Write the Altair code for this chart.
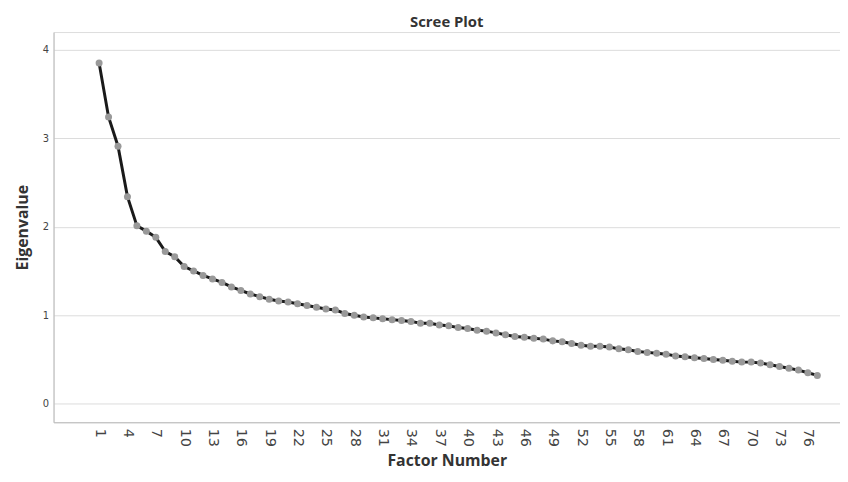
import altair as alt
import pandas as pd

factor_number = list(range(1, 78))
eigenvalue = [
    3.85, 3.24, 2.91, 2.34, 2.01, 1.95, 1.88, 1.72, 1.66, 1.55,
    1.50, 1.45, 1.41, 1.37, 1.32, 1.28, 1.24, 1.21, 1.18, 1.16,
    1.15, 1.13, 1.11, 1.09, 1.07, 1.06, 1.02, 1.00, 0.98, 0.97,
    0.96, 0.95, 0.94, 0.93, 0.91, 0.91, 0.89, 0.88, 0.86, 0.85,
    0.83, 0.82, 0.80, 0.78, 0.76, 0.75, 0.74, 0.73, 0.71, 0.70,
    0.68, 0.66, 0.65, 0.65, 0.64, 0.62, 0.61, 0.59, 0.58, 0.57,
    0.56, 0.54, 0.53, 0.52, 0.51, 0.50, 0.49, 0.48, 0.47, 0.47,
    0.46, 0.44, 0.42, 0.40, 0.38, 0.35, 0.32,
]
x_ticks = list(range(1, 77, 3))
y_ticks = [0, 1, 2, 3, 4]

df = pd.DataFrame({"Factor Number": factor_number, "Eigenvalue": eigenvalue})

x_enc = alt.X(
    "Factor Number:Q",
    scale=alt.Scale(domain=[-3.82, 79.4], nice=False, zero=False),
    axis=alt.Axis(
        title="Factor Number", values=x_ticks, format="d", labelAngle=90,
        labelAlign="left", labelBaseline="middle", labelFontSize=14.5,
        labelColor="#444444", labelOverlap=False, labelPadding=6, ticks=False,
        grid=False, domainColor="#bbbbbb", titleFontSize=16,
        titleFontWeight="bold", titleColor="#333333", titlePadding=6,
        labelFont="DejaVu Sans", titleFont="Open Sans",
    ),
)
y_enc = alt.Y(
    "Eigenvalue:Q",
    scale=alt.Scale(domain=[-0.21, 4.2], nice=False, zero=False),
    axis=alt.Axis(
        title="Eigenvalue", values=y_ticks, format="d", labelFontSize=10,
        labelColor="#444444", labelPadding=5, ticks=False, grid=True,
        gridColor="#dcdcdc", domainColor="#bbbbbb", titleFontSize=16,
        titleFontWeight="bold", titleColor="#333333", titlePadding=12,
        labelFont="DejaVu Sans", titleFont="Open Sans",
    ),
)

base = alt.Chart(df).encode(x=x_enc, y=y_enc)
line = base.mark_line(color="#1a1a1a", strokeWidth=3)
pts = base.mark_circle(color="#999999", opacity=1, size=50)

chart = (
    alt.layer(line, pts)
    .properties(
        width=794,
        height=394,
        title=alt.TitleParams("Scree Plot", fontSize=15, fontWeight="bold",
                              font="Open Sans", color="#333333", offset=2),
        padding={"left": 46, "top": 22, "right": 0, "bottom": 56},
        autosize=alt.AutoSizeParams(type="none"),
    )
    .configure_axisX(labelOverlap=False)
    .configure_view(stroke=None)
    .configure(background="white")
)

chart.save("out.html", embed_options={"renderer": "svg", "actions": False})
